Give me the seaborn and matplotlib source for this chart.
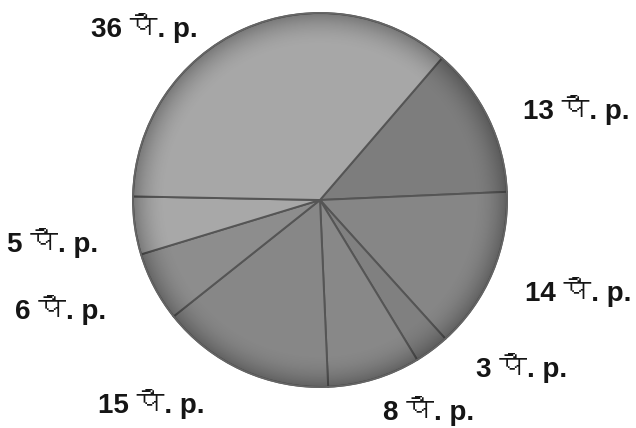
import numpy as np
import seaborn as sns
import matplotlib
matplotlib.use('Agg')
import matplotlib.pyplot as plt
from matplotlib import font_manager
from matplotlib.ft2font import FT2Font
from matplotlib.patches import Circle

# Share of each coin in the rupee (paise), clockwise from the upper right
values = [13, 14, 3, 8, 15, 6, 5, 36]
labels = ['13 पै. p.', '14 पै. p.', '3 पै. p.', '8 पै. p.',
          '15 पै. p.', '6 पै. p.', '5 पै. p.', '36 पै. p.']
greys = ['#7d7d7d', '#868686', '#808080', '#888888',
         '#878787', '#8d8d8d', '#a8a8a8', '#a7a7a7']

# label anchors (data units, pie radius = 1)
label_pos = [(1.37, 0.48), (1.38, -0.49), (1.08, -0.90), (0.58, -1.13),
             (-0.90, -1.09), (-1.39, -0.59), (-1.43, -0.23), (-0.94, 0.92)]


def devanagari_font():
    # look for any installed font that has the Devanagari glyphs
    for f in font_manager.fontManager.ttflist:
        try:
            cmap = FT2Font(f.fname).get_charmap()
        except Exception:
            continue
        if 0x092A in cmap and 0x0948 in cmap:
            return f.name
    return None


sns.set_theme(style='white')
deva = devanagari_font()
families = ['Liberation Sans'] + ([deva] if deva else []) + ['DejaVu Sans']
plt.rcParams['font.family'] = families

fig = plt.figure(figsize=(6.36, 4.28), dpi=100)
ax = fig.add_axes([0, 0, 1, 1])

R = 187.0  # pie radius in pixels
cx, cy = 320.0, 200.0

wedges, _ = ax.pie(values, colors=greys, startangle=49.3, counterclock=False,
                   radius=1, center=(0, 0), frame=True,
                   wedgeprops=dict(edgecolor='#555555', linewidth=1.4))
ax.set_xlim(-cx / R, (636 - cx) / R)
ax.set_ylim(-(428 - cy) / R, cy / R)
ax.set_aspect('equal')
ax.axis('off')

# soft rim shading to hint at the bevelled look
n = 400
g = np.linspace(-1, 1, n)
xx, yy = np.meshgrid(g, g)
rr = np.sqrt(xx ** 2 + yy ** 2)
shade = np.zeros((n, n, 4))
shade[..., 3] = np.clip((rr - 0.82) / 0.18, 0, 1) ** 2 * 0.28
img = ax.imshow(shade, extent=(-1, 1, -1, 1), origin='lower', zorder=3)
img.set_clip_path(Circle((0, 0), 1, transform=ax.transData))
ax.add_patch(Circle((0, 0), 1, fill=False, edgecolor='#666666', linewidth=1.2, zorder=4))

for txt, (x, y) in zip(labels, label_pos):
    ax.text(x, y, txt, ha='center', va='center', fontsize=20,
            fontweight='bold', color='#151515')

fig.savefig('out.png', dpi=100)
